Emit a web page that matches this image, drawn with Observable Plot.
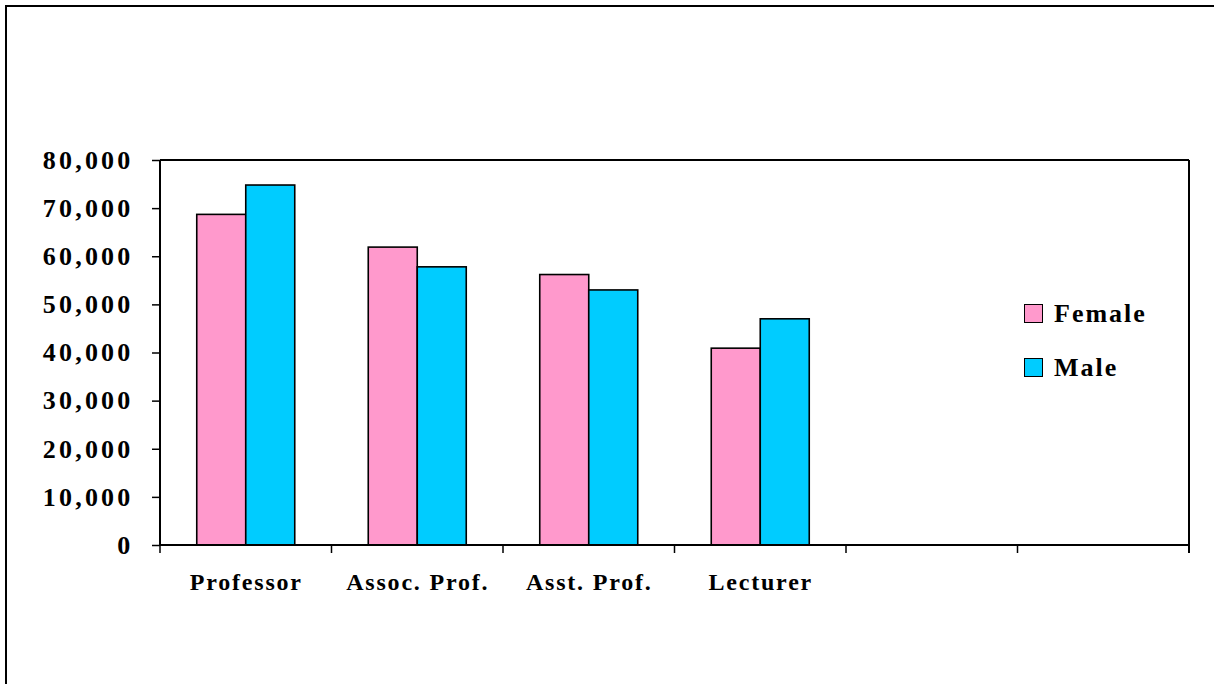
<!DOCTYPE html>
<html>
<head>
<meta charset="utf-8">
<script src="https://cdn.jsdelivr.net/npm/d3@7"></script>
<script src="https://cdn.jsdelivr.net/npm/@observablehq/plot@0.6"></script>
<style>
  html, body { margin: 0; padding: 0; background: #fff; }
  #wrap { position: relative; width: 1214px; height: 684px; overflow: hidden; background: #fff; }
  #border { position: absolute; left: 5px; top: 5px; width: 1300px; height: 800px; border-left: 2px solid #000; border-top: 2px solid #000; box-sizing: border-box; }
  #chart { position: absolute; left: 0; top: 0; }
  #legend { position: absolute; left: 1024px; top: 300px; font-family: "Liberation Serif", "Times New Roman", serif; font-weight: bold; font-size: 26px; letter-spacing: 2px; }
  .item { display: flex; align-items: center; height: 27px; margin-bottom: 27px; }
  .sw { width: 17px; height: 17px; border: 1.5px solid #000; margin-right: 11px; }
  #chart g[aria-label="y-axis tick label"] text { letter-spacing: 3.2px; }
  #chart g[aria-label="fx-axis tick label"] text { letter-spacing: 1.8px; }
</style>
</head>
<body>
<div id="wrap">
  <div id="border"></div>
  <div id="chart"></div>
  <div id="legend"></div>
</div>
<script>
// ---- data ----
const categories = ["Professor", "Assoc. Prof.", "Asst. Prof.", "Lecturer"];
const emptySlots = ["slot5", "slot6"];
const series = ["Female", "Male"];
const female = [68700, 61900, 56200, 40900];
const male = [74800, 57800, 53000, 47000];
const colors = ["#FF99CC", "#00CCFF"];
const yTicks = [0, 10000, 20000, 30000, 40000, 50000, 60000, 70000, 80000];

const rows = [];
categories.forEach((c, i) => {
  rows.push({category: c, sex: "Female", value: female[i]});
  rows.push({category: c, sex: "Male", value: male[i]});
});
const slots = categories.concat(emptySlots);

const W = 1214, H = 684;
const mL = 160, mR = 25, mT = 160, mB = 139;

const plot = Plot.plot({
  width: W,
  height: H,
  marginLeft: mL,
  marginRight: mR,
  marginTop: mT,
  marginBottom: mB,
  style: {fontFamily: "'Liberation Serif', 'Times New Roman', serif", fontWeight: "bold", background: "transparent", overflow: "visible"},
  fx: {domain: slots, padding: 0, round: false, label: null},
  x: {domain: series, paddingInner: 0, paddingOuter: 0.75, round: false, axis: null},
  y: {domain: [0, 80000], label: null},
  color: {domain: series, range: colors},
  marks: [
    Plot.barY(rows, {fx: "category", x: "sex", y: "value", fill: "sex", stroke: "#000", strokeWidth: 1.6}),
    Plot.axisY({ticks: yTicks, tickFormat: d3.format(","), tickSize: 8, tickPadding: 19, fontSize: 26, fontWeight: "bold", label: null, stroke: "#000", strokeWidth: 1.5}),
    Plot.axisFx({anchor: "bottom", tickSize: 0, tickPadding: 27, fontSize: 24, fontWeight: "bold", label: null, tickFormat: d => categories.includes(d) ? d : ""})
  ]
});

document.getElementById("chart").appendChild(plot);

// plot-area frame and category boundary ticks, from the library's scales
const fx = plot.scale("fx");
const band = d3.scaleBand().domain(fx.domain).range(fx.range).padding(0);
const svg = d3.select(plot);
const x0 = fx.range[0], x1 = fx.range[1];
const yS = plot.scale("y");
const yTop = Math.min(...yS.range), yBot = Math.max(...yS.range);
const line = (a, b, c, d, w) => svg.append("line").attr("x1", a).attr("x2", b).attr("y1", c).attr("y2", d).attr("stroke", "#000").attr("stroke-width", w);
line(x0, x1, yTop, yTop, 2);
line(x0, x1, yBot, yBot, 2);
line(x0, x0, yTop, yBot, 2);
line(x1, x1, yTop, yBot + 8, 2);
fx.domain.map(d => band(d)).forEach(b => line(b, b, yBot, yBot + 8, 1.5));
</script>
<script>
const leg = document.getElementById("legend");
series.forEach((s, i) => {
  const it = document.createElement("div");
  it.className = "item";
  const sw = document.createElement("div");
  sw.className = "sw";
  sw.style.background = colors[i];
  const t = document.createElement("span");
  t.textContent = s;
  it.appendChild(sw);
  it.appendChild(t);
  leg.appendChild(it);
});
</script>
</body>
</html>
